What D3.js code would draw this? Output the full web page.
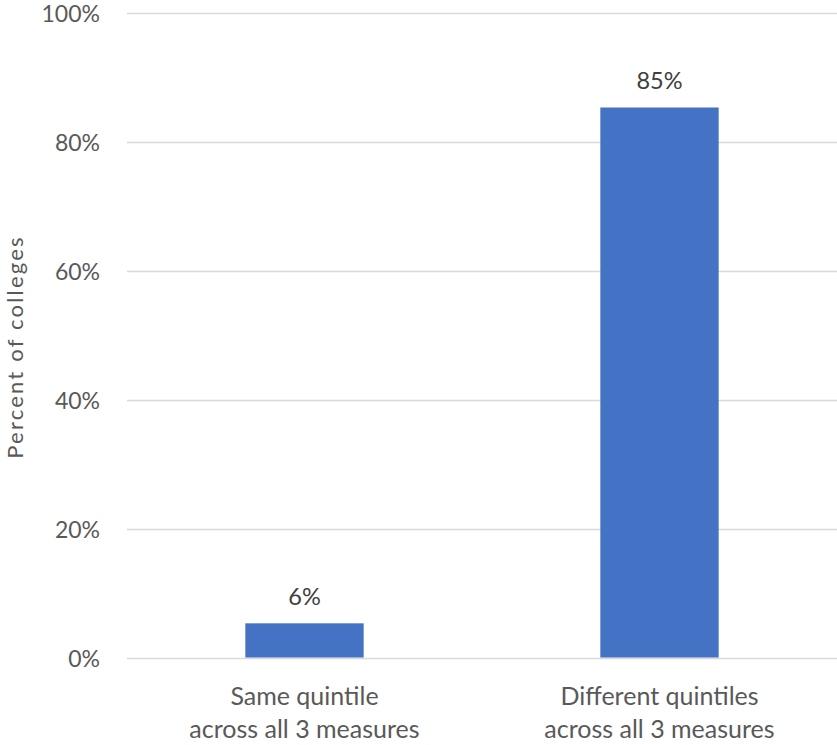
<!DOCTYPE html>
<html><head><meta charset="utf-8">
<script src="https://cdn.jsdelivr.net/npm/d3@7"></script>
<style>body{margin:0;background:#fff}svg text{font-family:Lato,"Open Sans",sans-serif}</style>
</head><body>
<svg id="c" width="837" height="745"></svg>
<script>
const categories = [["Same quintile","across all 3 measures"],["Different quintiles","across all 3 measures"]];
const values = [5.3, 85.3];
const valueLabels = ["6%","85%"];
const yTicks = [0,20,40,60,80,100];
const yTitle = "Percent of colleges";

const svg = d3.select("#c");
const m = {left:127, right:837, top:12.7, bottom:657.5};
const x = d3.scaleBand().domain(d3.range(categories.length)).range([m.left,m.right]).padding(0);
const y = d3.scaleLinear().domain([0,100]).range([m.bottom,m.top]);

svg.append("g").selectAll("line").data(yTicks).join("line")
  .attr("x1",m.left).attr("x2",m.right)
  .attr("y1",d=>Math.round(y(d))+0.5).attr("y2",d=>Math.round(y(d))+0.5)
  .attr("stroke","#d9d9d9").attr("stroke-width",1.5);

svg.append("g").selectAll("text").data(yTicks).join("text")
  .attr("x",100).attr("y",d=>y(d)+9)
  .attr("text-anchor","end").attr("font-size",23).attr("fill","#595959")
  .text(d=>d+"%");

const bw = x.bandwidth()/3;
svg.append("g").selectAll("rect").data(values).join("rect")
  .attr("x",(d,i)=>x(i)+x.bandwidth()/2-bw/2).attr("width",bw)
  .attr("y",d=>y(d)).attr("height",d=>y(0)-y(d))
  .attr("fill","#4472c4");

svg.append("g").selectAll("text").data(values).join("text")
  .attr("x",(d,i)=>x(i)+x.bandwidth()/2).attr("y",d=>y(d)-18)
  .attr("text-anchor","middle").attr("font-size",23.5).attr("fill","#404040")
  .text((d,i)=>valueLabels[i]);

const cg = svg.append("g").selectAll("text").data(categories).join("text")
  .attr("x",(d,i)=>x(i)+x.bandwidth()/2).attr("y",705)
  .attr("text-anchor","middle").attr("font-size",25).attr("fill","#595959");
cg.selectAll("tspan").data(d=>d).join("tspan")
  .attr("x",function(){return this.parentNode.getAttribute("x");})
  .attr("dy",(d,j)=>j? "33":"0").text(d=>d);

svg.append("text").attr("transform","translate(22.5,347) rotate(-90)")
  .attr("text-anchor","middle").attr("font-size",22).attr("letter-spacing",2.2)
  .attr("fill","#595959").text(yTitle);
</script>
</body></html>
